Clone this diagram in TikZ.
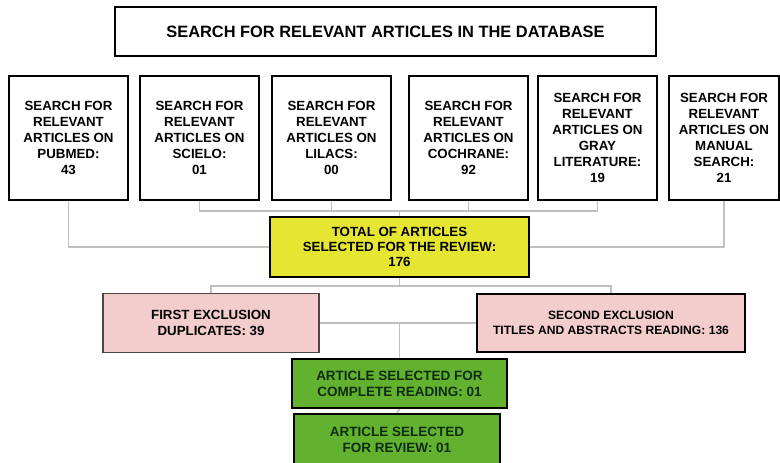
\documentclass[tikz,border=0pt]{standalone}
\usepackage{fontspec}
\setmainfont{Liberation Sans}
\definecolor{conn}{RGB}{192,192,192}
\definecolor{yel}{RGB}{230,230,50}
\definecolor{pnk}{RGB}{243,204,204}
\definecolor{grn}{RGB}{98,178,47}
\definecolor{grntext}{RGB}{16,44,16}
\definecolor{pinkedge}{RGB}{80,70,70}
\begin{document}
\begin{tikzpicture}[x=1pt,y=-1pt,
  box/.style={draw=black,line width=2.5pt,align=center,inner sep=0pt,
    font=\bfseries\fontsize{13.3}{16}\selectfont},
  srcbox/.style={box,minimum width=119pt,minimum height=124pt},
  yelbox/.style={box,fill=yel,line width=1.6pt,minimum width=259pt,minimum height=60pt,
    font=\bfseries\fontsize{13.3}{15}\selectfont},
  pinkbox/.style={box,fill=pnk,minimum height=59pt},
  grnbox/.style={box,fill=grn,text=grntext,font=\bfseries\fontsize{13.5}{16}\selectfont},
  link/.style={draw=conn,line width=1.8pt}]
\useasboundingbox (0,0) rectangle (780,463);
% title
\node[box,minimum width=541pt,minimum height=49pt,font=\bfseries\fontsize{16.4}{19}\selectfont]
  (title) at (385.5,31.5) {SEARCH FOR RELEVANT ARTICLES IN THE DATABASE};
% sources
\node[srcbox] (s1) at (68.5,138) {SEARCH FOR\\RELEVANT\\ARTICLES ON\\PUBMED:\\43};
\node[srcbox] (s2) at (199.5,138) {SEARCH FOR\\RELEVANT\\ARTICLES ON\\SCIELO:\\01};
\node[srcbox] (s3) at (331.5,138) {SEARCH FOR\\RELEVANT\\ARTICLES ON\\LILACS:\\00};
\node[srcbox] (s4) at (468.5,138) {SEARCH FOR\\RELEVANT\\ARTICLES ON\\COCHRANE:\\92};
\node[srcbox] (s5) at (597.5,138) {SEARCH FOR\\RELEVANT\\ARTICLES ON\\GRAY\\LITERATURE:\\19};
\node[srcbox,minimum width=110pt] (s6) at (724,138) {SEARCH FOR\\RELEVANT\\ARTICLES ON\\MANUAL\\SEARCH:\\21};
% total
\node[yelbox] (tot) at (399.5,247) {TOTAL OF ARTICLES\\SELECTED FOR THE REVIEW:\\176};
% exclusions
\node[pinkbox,draw=pinkedge,line width=1.5pt,minimum width=216pt] (p1) at (211,323) {FIRST EXCLUSION\\DUPLICATES: 39};
\node[pinkbox,minimum width=268pt,minimum height=58pt,font=\bfseries\fontsize{12.1}{15}\selectfont] (p2) at (611,323) {SECOND EXCLUSION\\TITLES AND ABSTRACTS READING: 136};
% selected
\node[grnbox,minimum width=215pt,minimum height=49pt] (g1) at (399.5,383.5) {ARTICLE SELECTED FOR\\COMPLETE READING: 01};
\node[grnbox,minimum width=206pt,minimum height=51pt] (g2) at (397,439.5) {ARTICLE SELECTED\\FOR REVIEW: 01};
% bus coordinates
\coordinate (busA) at (399.5,210);
\coordinate (busB) at (399.5,286);
\coordinate (busC) at (399.5,323);
% connectors
\path[link] (s2.south) -- ++(0,10) -| (s5.south);
\path[link] (s3.south) -- (s3.south |- busA);
\path[link] (s4.south) -- (s4.south |- busA);
\path[link] (busA) -- (tot.north);
\path[link] (s1.south) |- (tot.west);
\path[link] (s6.south) |- (tot.east);
\path[link] (tot.south) -- (busB);
\path[link] (p1.north) |- (busB) -| (p2.north);
\path[link] (p1.east) -- (p2.west);
\path[link] (busC) -- (g1.north);
\path[link] (g1.south) -- (g2.north);
\end{tikzpicture}
\end{document}
